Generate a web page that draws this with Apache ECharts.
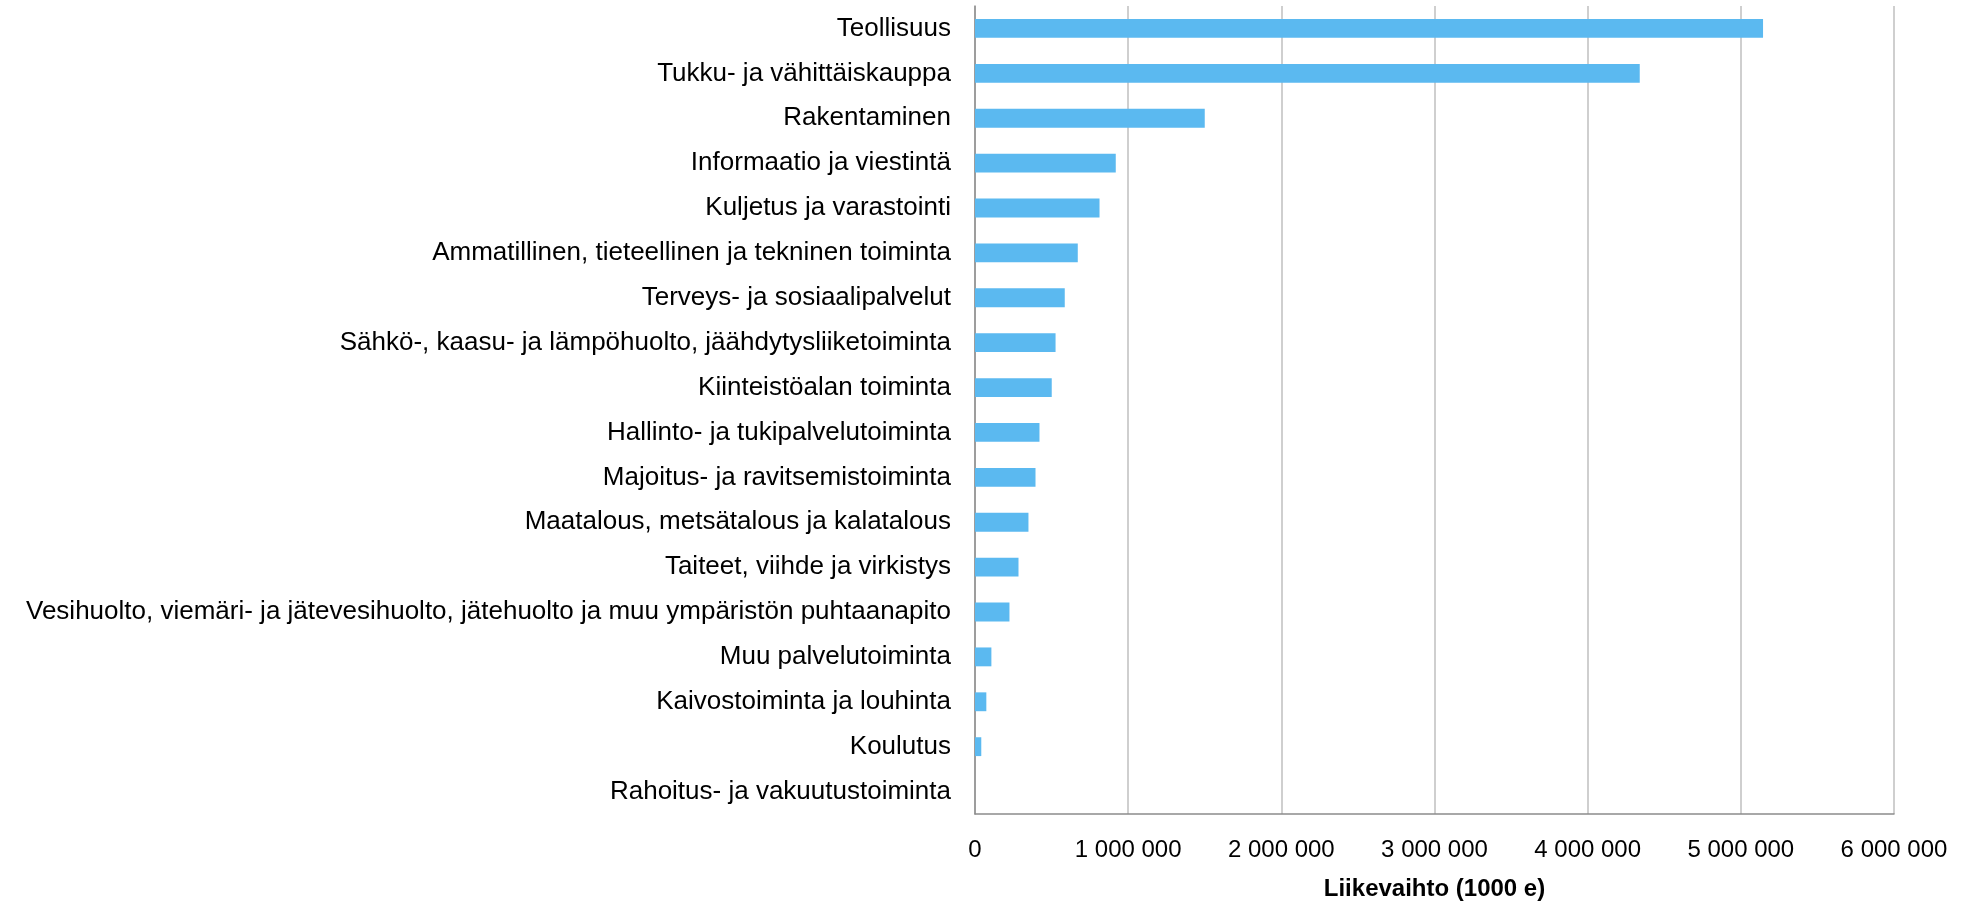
<!DOCTYPE html>
<html>
<head>
<meta charset="utf-8">
<script src="https://cdn.jsdelivr.net/npm/echarts@6/dist/echarts.min.js"></script>
<style>
html,body{margin:0;padding:0;background:#fff;}
#chart{width:1975px;height:906px;}
</style>
</head>
<body>
<div id="chart"></div>
<script>
const categories = [
  "Teollisuus",
  "Tukku- ja vähittäiskauppa",
  "Rakentaminen",
  "Informaatio ja viestintä",
  "Kuljetus ja varastointi",
  "Ammatillinen, tieteellinen ja tekninen toiminta",
  "Terveys- ja sosiaalipalvelut",
  "Sähkö-, kaasu- ja lämpöhuolto, jäähdytysliiketoiminta",
  "Kiinteistöalan toiminta",
  "Hallinto- ja tukipalvelutoiminta",
  "Majoitus- ja ravitsemistoiminta",
  "Maatalous, metsätalous ja kalatalous",
  "Taiteet, viihde ja virkistys",
  "Vesihuolto, viemäri- ja jätevesihuolto, jätehuolto ja muu ympäristön puhtaanapito",
  "Muu palvelutoiminta",
  "Kaivostoiminta ja louhinta",
  "Koulutus",
  "Rahoitus- ja vakuutustoiminta"
];
const liikevaihto = [
  5145000, 4340000, 1500000, 919000, 813000, 671000, 586000, 526000, 501000,
  421000, 395000, 349000, 284000, 225000, 107000, 74000, 41000, 0
];
const axisTitle = "Liikevaihto (1000 e)";
const xTicks = { min: 0, max: 6000000, interval: 1000000 };

function fmt(v) {
  return String(v).replace(/\B(?=(\d{3})+(?!\d))/g, " ");
}

const chart = echarts.init(document.getElementById('chart'));
chart.setOption({
  animation: false,
  textStyle: { fontFamily: "Liberation Sans" },
  grid: { left: 975, right: 81, top: 6, bottom: 90, containLabel: false },
  xAxis: {
    type: 'value',
    min: xTicks.min, max: xTicks.max, interval: xTicks.interval,
    axisLine: { show: true, lineStyle: { color: '#8c8c8c', width: 1.5 } },
    axisTick: { show: false },
    splitLine: { show: true, lineStyle: { color: '#bfbfbf', width: 1.5 } },
    axisLabel: { formatter: fmt, fontSize: 24, color: '#000', margin: 24 },
    name: axisTitle,
    nameLocation: 'middle',
    nameGap: 63,
    nameTextStyle: { fontSize: 24, fontWeight: 'bold', color: '#000' }
  },
  yAxis: {
    type: 'category',
    data: categories,
    inverse: true,
    axisLine: { show: true, lineStyle: { color: '#8c8c8c', width: 1.5 } },
    axisTick: { show: false },
    axisLabel: { fontSize: 26, color: '#000', margin: 24 }
  },
  series: [{
    type: 'bar',
    data: liikevaihto,
    barCategoryGap: '58%',
    itemStyle: { color: '#5BB9F0' }
  }]
});
</script>
</body>
</html>
